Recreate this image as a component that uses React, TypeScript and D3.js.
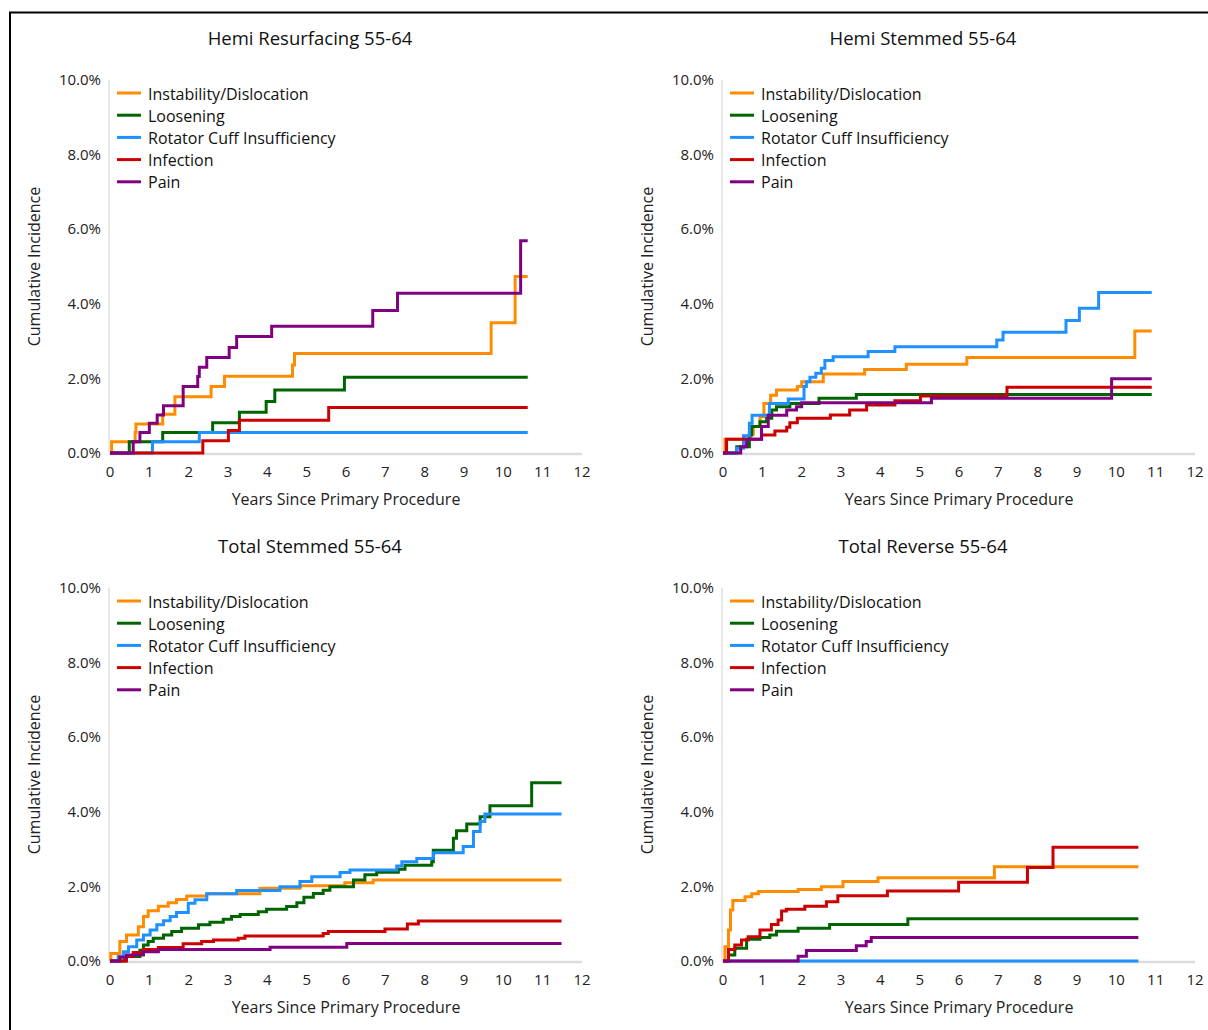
import React, { useEffect, useRef } from "react";
import * as d3 from "d3";

// [years, cumulative incidence %]
const seriesNames = [
  "Instability/Dislocation",
  "Loosening",
  "Rotator Cuff Insufficiency",
  "Infection",
  "Pain",
];
const seriesColors = ["#ff8c00", "#006400", "#1e90ff", "#cc0000", "#800080"];

const xTicks = [0, 1, 2, 3, 4, 5, 6, 7, 8, 9, 10, 11, 12];
const yTicks = [0, 2, 4, 6, 8, 10];

// Hemi Resurfacing 55-64
const hrInstability = [[0,0],[0.04,0.3],[0.64,0.55],[0.66,0.78],[1.34,1.04],[1.65,1.51],[2.57,1.78],[2.91,2.06],[4.64,2.36],[4.69,2.67],[9.69,3.49],[10.3,4.73],[10.62,4.73]];
const hrLoosening = [[0,0],[0.49,0.3],[1.34,0.55],[2.61,0.81],[3.29,1.09],[3.97,1.38],[4.19,1.69],[5.96,2.03],[10.62,2.03]];
const hrRotator = [[0,0],[1.08,0.3],[2.27,0.55],[10.62,0.55]];
const hrInfection = [[0,0],[2.36,0.33],[3.01,0.6],[3.29,0.88],[5.56,1.22],[10.62,1.22]];
const hrPain = [[0,0],[0.59,0.3],[0.76,0.55],[1.0,0.8],[1.2,1.02],[1.36,1.27],[1.86,1.78],[2.23,2.05],[2.27,2.3],[2.46,2.56],[3.03,2.83],[3.22,3.12],[4.11,3.4],[6.68,3.82],[7.31,4.28],[10.44,5.69],[10.62,5.69]];

// Hemi Stemmed 55-64
const hsInstability = [[0,0],[0.05,0.37],[0.7,0.5],[0.77,0.71],[0.94,0.97],[1.04,1.33],[1.21,1.55],[1.36,1.69],[1.89,1.78],[2.0,1.91],[2.55,2.12],[3.6,2.24],[4.66,2.38],[6.2,2.56],[10.47,3.27],[10.9,3.27]];
const hsLoosening = [[0,0],[0.35,0.17],[0.67,0.48],[0.73,0.71],[0.94,0.84],[1.11,0.93],[1.24,1.15],[1.36,1.24],[1.7,1.33],[2.44,1.47],[3.39,1.57],[10.9,1.57]];
const hsRotator = [[0,0],[0.35,0.13],[0.52,0.46],[0.67,0.8],[0.74,1.01],[1.18,1.33],[1.66,1.45],[2.06,1.78],[2.12,1.91],[2.21,2.03],[2.36,2.14],[2.5,2.27],[2.59,2.48],[2.8,2.58],[3.69,2.72],[4.37,2.85],[6.96,3.03],[7.12,3.24],[8.72,3.55],[9.06,3.88],[9.55,4.3],[10.9,4.3]];
const hsInfection = [[0,0],[0.09,0.37],[0.98,0.48],[1.32,0.59],[1.62,0.69],[1.7,0.81],[1.89,0.93],[2.73,1.02],[3.22,1.15],[3.65,1.29],[4.37,1.4],[5.02,1.53],[7.22,1.76],[10.9,1.76]];
const hsPain = [[0,0],[0.45,0.17],[0.6,0.37],[0.98,0.71],[1.15,1.01],[1.62,1.15],[1.87,1.24],[2.0,1.35],[5.3,1.47],[9.88,1.99],[10.9,1.99]];

// Total Stemmed 55-64
const tsInstability = [[0,0],[0.02,0.2],[0.25,0.52],[0.42,0.7],[0.72,0.92],[0.85,1.19],[0.97,1.35],[1.23,1.47],[1.48,1.56],[1.69,1.65],[1.95,1.74],[2.46,1.8],[3.81,1.95],[4.83,2.02],[5.97,2.1],[6.69,2.17],[11.48,2.17]];
const tsLoosening = [[0,0],[0.38,0.12],[0.76,0.29],[0.85,0.43],[0.97,0.52],[1.1,0.61],[1.36,0.7],[1.57,0.79],[1.82,0.88],[2.25,0.97],[2.54,1.04],[2.88,1.12],[3.09,1.19],[3.31,1.25],[3.77,1.32],[3.98,1.39],[4.49,1.46],[4.75,1.56],[4.93,1.71],[5.17,1.81],[5.42,1.9],[5.59,1.99],[6.19,2.17],[6.48,2.31],[6.78,2.38],[7.33,2.46],[7.5,2.57],[8.18,2.66],[8.22,2.97],[8.73,3.29],[8.81,3.49],[9.07,3.67],[9.41,3.87],[9.66,4.16],[10.72,4.78],[11.48,4.78]];
const tsRotator = [[0,0],[0.21,0.12],[0.34,0.25],[0.47,0.38],[0.68,0.56],[0.85,0.7],[1.02,0.83],[1.19,0.97],[1.36,1.08],[1.53,1.19],[1.69,1.3],[1.99,1.55],[2.16,1.64],[2.46,1.8],[3.22,1.89],[4.32,1.99],[4.83,2.13],[5.13,2.26],[5.85,2.37],[6.1,2.44],[7.29,2.55],[7.42,2.66],[7.8,2.75],[8.22,2.9],[8.98,3.07],[9.24,3.47],[9.41,3.74],[9.53,3.94],[11.48,3.94]];
const tsInfection = [[0,0],[0.42,0.12],[0.59,0.23],[0.85,0.31],[1.23,0.36],[1.86,0.46],[2.33,0.52],[2.63,0.56],[3.26,0.61],[3.43,0.67],[5.42,0.74],[5.55,0.79],[6.99,0.86],[7.56,0.99],[7.84,1.07],[11.48,1.07]];
const tsPain = [[0,0],[0.25,0.1],[0.42,0.16],[0.85,0.25],[1.23,0.31],[4.07,0.37],[6.02,0.47],[11.48,0.47]];

// Total Reverse 55-64
const trInstability = [[0,0],[0.05,0.38],[0.14,0.83],[0.19,1.37],[0.25,1.62],[0.56,1.72],[0.73,1.8],[0.9,1.86],[1.91,1.92],[2.5,1.99],[3.05,2.13],[3.94,2.23],[6.9,2.53],[10.56,2.53]];
const trLoosening = [[0,0],[0.14,0.16],[0.3,0.34],[0.6,0.58],[0.94,0.63],[1.19,0.7],[1.36,0.8],[1.91,0.88],[2.71,0.98],[4.7,1.13],[10.56,1.13]];
const trRotator = [[0,0],[10.56,0]];
const trInfection = [[0,0],[0.14,0.31],[0.3,0.43],[0.47,0.56],[0.64,0.65],[0.94,0.83],[1.23,0.98],[1.4,1.1],[1.49,1.34],[1.61,1.39],[2.08,1.47],[2.63,1.59],[2.92,1.75],[4.18,1.88],[5.99,2.11],[7.74,2.51],[8.39,3.05],[10.56,3.05]];
const trPain = [[0,0],[1.91,0.13],[2.12,0.28],[3.39,0.41],[3.64,0.52],[3.77,0.63],[10.56,0.63]];

const panels = [
  { title: "Hemi Resurfacing 55-64", col: 0, row: 0, series: [hrInstability, hrLoosening, hrRotator, hrInfection, hrPain] },
  { title: "Hemi Stemmed 55-64", col: 1, row: 0, series: [hsInstability, hsLoosening, hsRotator, hsInfection, hsPain] },
  { title: "Total Stemmed 55-64", col: 0, row: 1, series: [tsInstability, tsLoosening, tsRotator, tsInfection, tsPain] },
  { title: "Total Reverse 55-64", col: 1, row: 1, series: [trInstability, trLoosening, trRotator, trInfection, trPain] },
];

const FONT = "'Open Sans', 'Noto Sans', sans-serif";

const App = () => {
  const svgRef = useRef<SVGSVGElement>(null);

  useEffect(() => {
    const svg = d3.select(svgRef.current);
    svg.selectAll("*").remove();

    // frame
    svg
      .append("rect")
      .attr("x", 10)
      .attr("y", 12.5)
      .attr("width", 1400)
      .attr("height", 1200)
      .attr("fill", "none")
      .attr("stroke", "#000")
      .attr("stroke-width", 2);

    const plotW = 472;
    const plotH = 373;
    const colX = [110, 723];
    const rowY = [80, 588];

    panels.forEach((p) => {
      const x0 = colX[p.col];
      const y0 = rowY[p.row];
      const g = svg.append("g").attr("transform", `translate(${x0},${y0})`);

      const x = d3.scaleLinear().domain([0, 12]).range([0, plotW]);
      const y = d3.scaleLinear().domain([0, 10]).range([plotH, 0]);

      // axis lines
      g.append("line")
        .attr("x1", -1).attr("x2", -1)
        .attr("y1", 0).attr("y2", plotH)
        .attr("stroke", "#e0e0e0").attr("stroke-width", 1.5);
      g.append("line")
        .attr("x1", -1).attr("x2", x(12))
        .attr("y1", plotH + 1).attr("y2", plotH + 1)
        .attr("stroke", "#dcdcdc").attr("stroke-width", 2.5);

      // y tick labels
      g.selectAll(".ytick")
        .data(yTicks)
        .enter()
        .append("text")
        .attr("x", -9)
        .attr("y", (d) => y(d))
        .attr("dy", "0.35em")
        .attr("text-anchor", "end")
        .attr("font-family", FONT)
        .attr("font-size", "15px")
        .attr("fill", "#222")
        .text((d) => `${d.toFixed(1)}%`);

      // x tick labels
      g.selectAll(".xtick")
        .data(xTicks)
        .enter()
        .append("text")
        .attr("x", (d) => x(d))
        .attr("y", plotH + 19)
        .attr("dy", "0.35em")
        .attr("text-anchor", "middle")
        .attr("font-family", FONT)
        .attr("font-size", "15px")
        .attr("fill", "#222")
        .text((d) => d);

      // titles
      g.append("text")
        .attr("x", 200)
        .attr("y", -41)
        .attr("dy", "0.35em")
        .attr("text-anchor", "middle")
        .attr("font-family", FONT)
        .attr("font-size", "18.5px")
        .attr("fill", "#111")
        .text(p.title);

      g.append("text")
        .attr("x", plotW / 2)
        .attr("y", plotH + 46)
        .attr("dy", "0.35em")
        .attr("text-anchor", "middle")
        .attr("font-family", FONT)
        .attr("font-size", "16px")
        .attr("fill", "#222")
        .text("Years Since Primary Procedure");

      g.append("text")
        .attr("transform", `translate(-76,${plotH / 2}) rotate(-90)`)
        .attr("dy", "0.35em")
        .attr("text-anchor", "middle")
        .attr("font-family", FONT)
        .attr("font-size", "16px")
        .attr("fill", "#222")
        .text("Cumulative Incidence");

      // step lines
      const line = d3
        .line<number[]>()
        .x((d) => x(d[0]))
        .y((d) => y(d[1]))
        .curve(d3.curveStepAfter);

      g.selectAll(".series")
        .data(p.series)
        .enter()
        .append("path")
        .attr("d", (d) => line(d))
        .attr("fill", "none")
        .attr("stroke", (d, i) => seriesColors[i])
        .attr("stroke-width", 3);

      // legend
      const legend = g
        .selectAll(".legend-item")
        .data(seriesNames)
        .enter()
        .append("g")
        .attr("transform", (d, i) => `translate(7, ${13 + i * 22.2})`);

      legend
        .append("line")
        .attr("x1", 0).attr("x2", 24)
        .attr("y1", 0).attr("y2", 0)
        .attr("stroke", (d, i) => seriesColors[i])
        .attr("stroke-width", 3);

      legend
        .append("text")
        .attr("x", 31)
        .attr("y", 1)
        .attr("dy", "0.35em")
        .attr("font-family", FONT)
        .attr("font-size", "16px")
        .attr("fill", "#111")
        .text((d) => d);
    });
  }, []);

  return (
    <div style={{ position: "absolute", left: 0, top: 0 }}>
      <svg ref={svgRef} width={1208} height={1030}></svg>
    </div>
  );
};

export default App;
